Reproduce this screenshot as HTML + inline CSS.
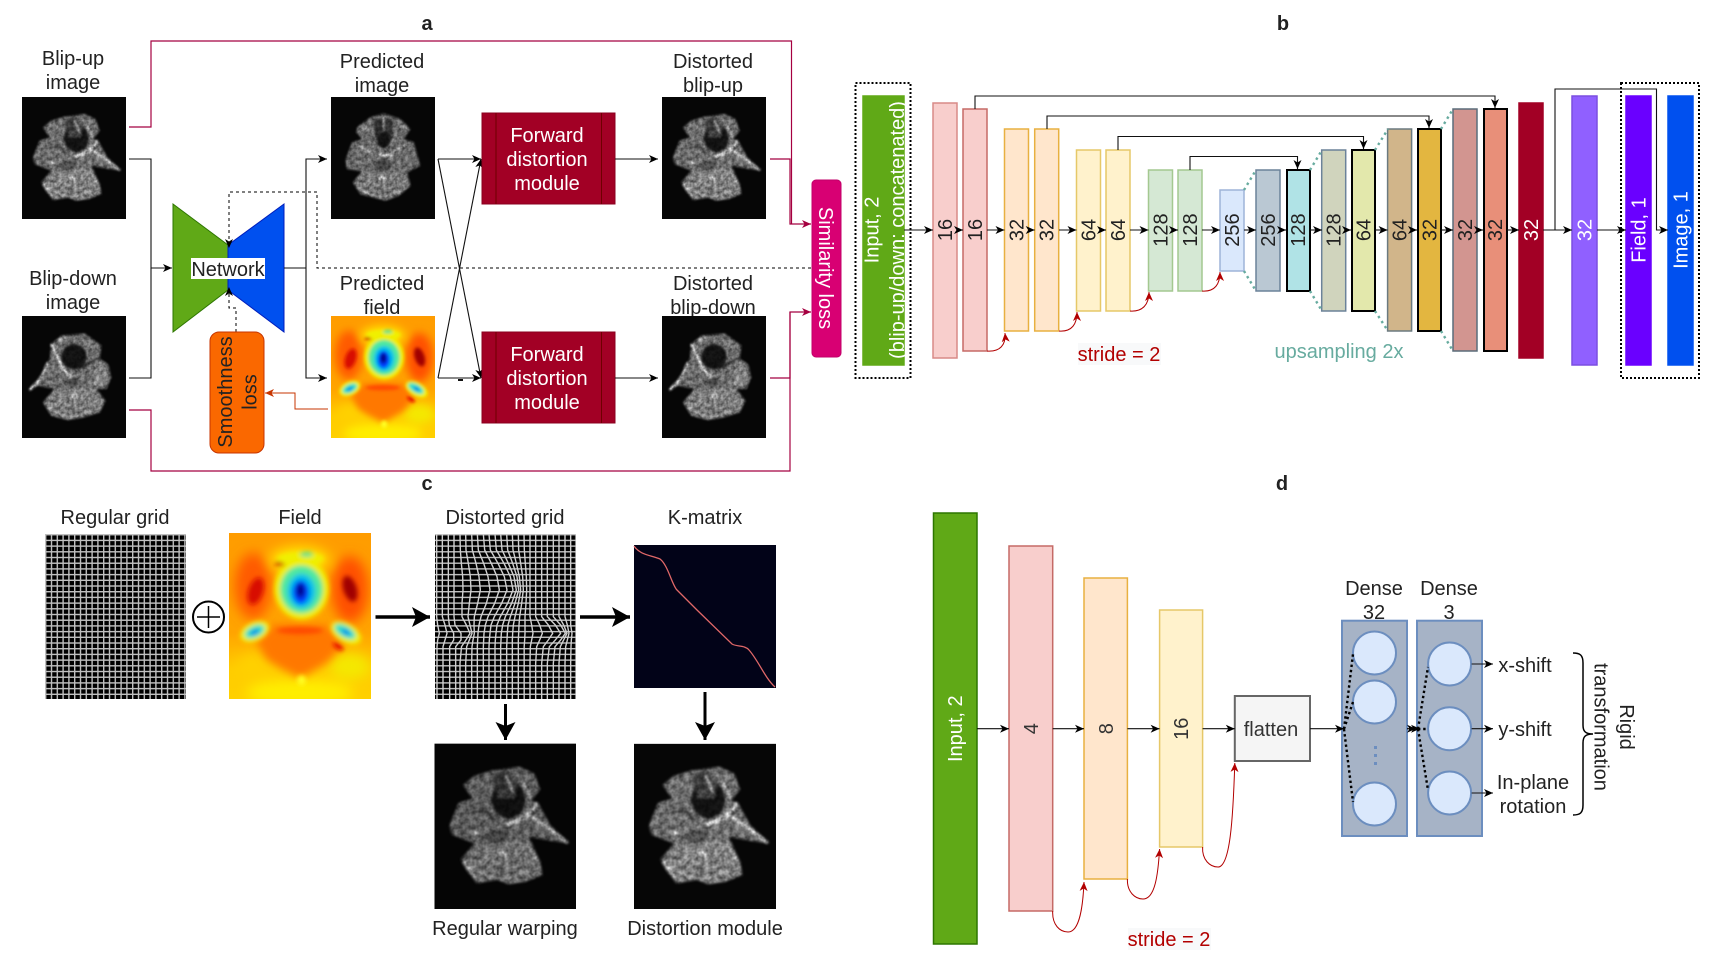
<!DOCTYPE html>
<html lang="en">
<head>
<meta charset="utf-8">
<title>Network architecture diagram</title>
<style>
html,body{margin:0;padding:0;background:#fff;width:1712px;height:968px;overflow:hidden}
svg{display:block}
text{font-family:"Liberation Sans",sans-serif;font-size:20px;fill:#222;text-anchor:middle}
.w{fill:#fff}
.r{fill:#b20000}
.k{fill:none;stroke:#111;stroke-width:1.1}
.m{fill:none;stroke:#a50040;stroke-width:1.2}
.rc{fill:none;stroke:#b20000;stroke-width:1}
.t{stroke:#67ab9f;stroke-width:2.4;stroke-dasharray:2.4 3.6;fill:none}
.th{fill:none;stroke:#000;stroke-width:2.4;stroke-dasharray:2.4 2.8}
</style>
</head>
<body>
<svg width="1712" height="968" viewBox="0 0 1712 968" xmlns="http://www.w3.org/2000/svg">
<defs>
<filter id="tex" x="-10%" y="-10%" width="120%" height="120%" color-interpolation-filters="sRGB">
<feGaussianBlur in="SourceGraphic" stdDeviation="3" result="b"/>
<feTurbulence type="fractalNoise" baseFrequency="0.09" numOctaves="2" seed="4" result="n"/>
<feColorMatrix in="n" type="matrix" values="1.1 0 0 0 .15  1.1 0 0 0 .15  1.1 0 0 0 .15  0 0 0 0 1" result="g"/>
<feComposite in="b" in2="g" operator="arithmetic" k1="1" k2=".15" k3="0" k4="0"/>
</filter>
<filter id="b2" x="-20%" y="-20%" width="140%" height="140%"><feGaussianBlur stdDeviation="7"/></filter>
<filter id="b2b" x="-20%" y="-20%" width="140%" height="140%"><feGaussianBlur stdDeviation="13"/></filter>
<filter id="b3" x="-40%" y="-40%" width="180%" height="180%"><feGaussianBlur stdDeviation="18"/></filter>
<filter id="bg" x="-5%" y="-5%" width="110%" height="110%"><feGaussianBlur stdDeviation=".35"/></filter>
<clipPath id="cg"><rect x="14" y="12" width="423" height="495"/></clipPath>
<linearGradient id="fbg" x1="0" y1="0" x2="0" y2="1">
<stop offset="0" stop-color="#ff9c00"/><stop offset=".6" stop-color="#ffa400"/><stop offset=".82" stop-color="#ffcc00"/><stop offset="1" stop-color="#ffd000"/>
</linearGradient>
<marker id="ah" markerUnits="userSpaceOnUse" markerWidth="11" markerHeight="10" refX="9" refY="5" orient="auto" overflow="visible"><path d="M0 1L9 5L0 9L2.5 5Z" fill="#000"/></marker>
<marker id="ar" markerUnits="userSpaceOnUse" markerWidth="11" markerHeight="10" refX="9" refY="5" orient="auto" overflow="visible"><path d="M0 1L9 5L0 9L2.5 5Z" fill="#b20000"/></marker>
<marker id="am" markerUnits="userSpaceOnUse" markerWidth="11" markerHeight="10" refX="9" refY="5" orient="auto" overflow="visible"><path d="M0 1L9 5L0 9L2.5 5Z" fill="#a50040"/></marker>
<marker id="ao" markerUnits="userSpaceOnUse" markerWidth="11" markerHeight="10" refX="9" refY="5" orient="auto" overflow="visible"><path d="M0 1L9 5L0 9L2.5 5Z" fill="#c73500"/></marker>
<marker id="ab" markerUnits="userSpaceOnUse" markerWidth="24" markerHeight="24" refX="18" refY="10" orient="auto" overflow="visible"><path d="M0 0L18 10L0 20L4 10Z" fill="#000"/></marker>

<pattern id="grid" patternUnits="userSpaceOnUse" width="5.8" height="5.7">
<rect width="5.8" height="5.7" fill="#000"/>
<path d="M0 .7H5.8M.7 0V5.7" stroke="#c0c0c0" stroke-width="1.4"/>
</pattern>
<pattern id="gridh" patternUnits="userSpaceOnUse" width="5.8" height="5.7">
<rect width="5.8" height="5.7" fill="#000"/>
<path d="M0 .7H5.8" stroke="#c0c0c0" stroke-width="1.4"/>
</pattern>

<symbol id="brainA" viewBox="12 9 312 366" preserveAspectRatio="none">
<rect x="12" y="9" width="312" height="366" fill="#060606"/>
<g filter="url(#tex)">
<path d="M100 80L140 68L200 60L232 75L245 110L225 135L240 140L268 190L310 230L275 225L220 215L245 270L250 300L210 315L175 320L150 310L105 318L80 285L70 265L100 230L50 210L45 190L65 140L95 130L75 100Z" fill="#808080"/>
<path d="M75 270L110 235L150 225L215 225L245 272L250 300L210 315L175 320L150 310L105 318Z" fill="#989898"/>
<ellipse cx="175" cy="132" rx="37" ry="42" fill="#161616"/>
<path d="M140 80L170 65L195 100L190 130L150 130Z" fill="#484848"/>
<ellipse cx="150" cy="215" rx="24" ry="15" fill="#5c5c5c"/>
<path d="M95 160L125 158L145 178" stroke="#1c1c1c" stroke-width="4" fill="none"/>
<path d="M172 190L215 170L240 140" stroke="#fff" stroke-width="7" fill="none"/>
<path d="M225 170L262 195L305 228" stroke="#f0f0f0" stroke-width="7" fill="none"/>
<path d="M224 128L206 92" stroke="#eee" stroke-width="6" fill="none"/>
<path d="M170 80L185 118" stroke="#ccc" stroke-width="5" fill="none"/>
<path d="M148 260Q158 236 168 260" stroke="#fff" stroke-width="6" fill="none"/>
<path d="M76 270L100 302" stroke="#eee" stroke-width="6" fill="none"/>
<path d="M240 268L215 230" stroke="#ddd" stroke-width="4" fill="none"/>
<path d="M100 212L108 200" stroke="#fff" stroke-width="5" fill="none"/>
<path d="M160 285V308" stroke="#333" stroke-width="4" fill="none"/>
</g>
</symbol>

<symbol id="brainB" viewBox="12 6 312 366" preserveAspectRatio="none">
<rect x="12" y="6" width="312" height="366" fill="#060606"/>
<g filter="url(#tex)">
<path d="M100 90L130 65L200 58L250 95L245 135L270 150L280 190L265 225L235 225L262 260L245 295L195 310L150 318L100 305L75 265L110 225L60 215L32 232L75 175L95 135Z" fill="#7c7c7c"/>
<path d="M75 265L110 225L225 222L262 260L245 295L195 310L150 318L100 305Z" fill="#949494"/>
<ellipse cx="168" cy="128" rx="38" ry="38" fill="#161616"/>
<path d="M225 205L225 120L250 140L275 190L262 222Z" fill="#989898"/>
<path d="M190 160L245 130" stroke="#161616" stroke-width="5" fill="none"/>
<path d="M100 90L118 128L132 162L165 195" stroke="#fff" stroke-width="7" fill="none"/>
<path d="M90 145L70 190L35 228" stroke="#f4f4f4" stroke-width="7" fill="none"/>
<path d="M115 80L145 72" stroke="#eee" stroke-width="5" fill="none"/>
<path d="M198 85L228 105" stroke="#ccc" stroke-width="5" fill="none"/>
<path d="M160 252Q170 230 180 252" stroke="#fff" stroke-width="6" fill="none"/>
<ellipse cx="162" cy="205" rx="22" ry="14" fill="#5a5a5a"/>
<path d="M225 205L240 215" stroke="#fff" stroke-width="5" fill="none"/>
<path d="M100 270L95 295" stroke="#ccc" stroke-width="4" fill="none"/>
<path d="M168 280V305" stroke="#333" stroke-width="4" fill="none"/>
</g>
</symbol>

<symbol id="brainC" viewBox="12 9 312 366" preserveAspectRatio="none">
<rect x="12" y="9" width="312" height="366" fill="#060606"/>
<g filter="url(#tex)">
<path d="M90 100L130 70L170 58L220 75L250 105L230 135L260 145L280 215L240 235L250 275L215 305L175 320L140 310L100 300L78 265L105 232L60 225L55 200L75 145L105 135L88 115Z" fill="#7c7c7c"/>
<path d="M78 265L105 232L240 235L250 275L215 305L175 320L140 310L100 300Z" fill="#8e8e8e"/>
<path d="M140 75L198 75L195 130L170 160L145 130Z" fill="#383838"/>
<ellipse cx="170" cy="138" rx="20" ry="24" fill="#161616"/>
<ellipse cx="168" cy="215" rx="26" ry="18" fill="#505050"/>
<path d="M170 70V110" stroke="#c0c0c0" stroke-width="5" fill="none"/>
<path d="M100 100L125 110M215 95L240 105" stroke="#ccc" stroke-width="5" fill="none"/>
<path d="M95 155L140 178M240 150L195 178" stroke="#ddd" stroke-width="4" fill="none"/>
<path d="M155 182L195 185" stroke="#eee" stroke-width="6" fill="none"/>
<path d="M156 258Q166 236 176 258" stroke="#fff" stroke-width="6" fill="none"/>
<path d="M100 285L125 300M240 280L215 300" stroke="#ccc" stroke-width="4" fill="none"/>
<path d="M168 285V312" stroke="#333" stroke-width="4" fill="none"/>
</g>
</symbol>

<symbol id="fieldimg" viewBox="568 11 425 497" preserveAspectRatio="none">
<rect x="568" y="11" width="425" height="497" fill="url(#fbg)"/>
<g filter="url(#b3)">
<ellipse cx="640" cy="170" rx="55" ry="100" fill="#ff5a00"/>
<ellipse cx="930" cy="180" rx="55" ry="100" fill="#ff5000"/>
<ellipse cx="780" cy="90" rx="90" ry="40" fill="#ffe000"/>
<ellipse cx="780" cy="490" rx="160" ry="40" fill="#ffee00"/>
<ellipse cx="650" cy="410" rx="60" ry="40" fill="#ffd000"/>
<ellipse cx="930" cy="410" rx="60" ry="40" fill="#f4e800"/>
</g>
<g filter="url(#b2b)">
<path d="M650 335L700 285L860 285L915 340L860 400L810 430L780 445L730 420L680 390Z" fill="#ff7800"/>
</g>
<g filter="url(#b2)">
<ellipse cx="780" cy="303" rx="70" ry="11" fill="#ff4800"/>
<ellipse cx="648" cy="185" rx="22" ry="42" fill="#d81000" transform="rotate(18 648 185)"/>
<ellipse cx="930" cy="178" rx="20" ry="40" fill="#a00000" transform="rotate(-18 930 178)"/>
<ellipse cx="725" cy="103" rx="20" ry="7" fill="#c80000"/>
<ellipse cx="782" cy="88" rx="70" ry="20" fill="#f0f000"/>
<ellipse cx="800" cy="75" rx="20" ry="8" fill="#60e090"/>
<ellipse cx="785" cy="178" rx="82" ry="92" fill="#f0ee00"/>
<ellipse cx="785" cy="180" rx="64" ry="72" fill="#50e8a0"/>
<ellipse cx="785" cy="185" rx="42" ry="52" fill="#00c0e8"/>
<ellipse cx="783" cy="188" rx="25" ry="36" fill="#0040ff"/>
<ellipse cx="782" cy="183" rx="13" ry="22" fill="#000090"/>
<ellipse cx="645" cy="306" rx="46" ry="28" fill="#f0f000" transform="rotate(-25 645 306)"/>
<ellipse cx="645" cy="306" rx="32" ry="17" fill="#30e0c8" transform="rotate(-25 645 306)"/>
<ellipse cx="645" cy="308" rx="15" ry="6" fill="#0070f0" transform="rotate(-25 645 308)"/>
<ellipse cx="918" cy="310" rx="50" ry="28" fill="#f0f000" transform="rotate(30 918 310)"/>
<ellipse cx="915" cy="306" rx="35" ry="17" fill="#30e0c8" transform="rotate(30 915 306)"/>
<ellipse cx="918" cy="308" rx="15" ry="6" fill="#0070f0" transform="rotate(30 918 308)"/>
<ellipse cx="895" cy="350" rx="18" ry="9" fill="#e81000" transform="rotate(35 895 350)"/>
<ellipse cx="785" cy="452" rx="13" ry="15" fill="#ffff20"/>
</g>
</symbol>
</defs>

<!-- PANEL A -->
<text x="427" y="30" style="font-weight:bold">a</text>
<text x="73" y="65">Blip-up</text><text x="73" y="89">image</text>
<text x="73" y="285">Blip-down</text><text x="73" y="309">image</text>
<text x="382" y="68">Predicted</text><text x="382" y="92">image</text>
<text x="382" y="290">Predicted</text><text x="382" y="314">field</text>
<text x="713" y="68">Distorted</text><text x="713" y="92">blip-up</text>
<text x="713" y="290">Distorted</text><text x="713" y="314">blip-down</text>

<use href="#brainA" x="22" y="97" width="104" height="122"/>
<use href="#brainB" x="22" y="316" width="104" height="122"/>
<use href="#brainC" x="331" y="97" width="104" height="122"/>
<use href="#fieldimg" x="331" y="316" width="104" height="122"/>
<use href="#brainA" x="662" y="97" width="104" height="122"/>
<use href="#brainB" x="662" y="316" width="104" height="122"/>

<path class="m" d="M129 127H151V41H791.500V224"/>
<path class="m" d="M770 159H790V224H811" marker-end="url(#am)"/>
<path class="m" d="M129 410H151V471H790V312"/>
<path class="m" d="M770 378H790V312H811" marker-end="url(#am)"/>

<path class="k" d="M129 159H151V268H172" marker-end="url(#ah)"/>
<path class="k" d="M129 378H151V268"/>

<polygon points="173,204 228,245 228,290 173,332" fill="#60a917" stroke="#2d7600"/>
<polygon points="284,204 228,245 228,290 284,332" fill="#0050ef" stroke="#001dbc"/>
<rect x="191" y="258" width="74" height="21" fill="#fff"/>
<text x="228" y="276">Network</text>

<path class="k" d="M284 268H306M306 268V159H327" marker-end="url(#ah)"/>
<path class="k" d="M306 268V378H327" marker-end="url(#ah)"/>

<path d="M811 268H317V192H229V248" fill="none" stroke="#000" stroke-dasharray="3 3" stroke-width="1" marker-end="url(#ah)"/>
<path d="M236 332V308H229V287" fill="none" stroke="#000" stroke-dasharray="3 3" stroke-width="1" marker-end="url(#ah)"/>

<rect x="210" y="332" width="54" height="121" rx="9" fill="#fa6800" stroke="#c73500"/>
<g transform="translate(225 392) rotate(-90)"><text y="7">Smoothness</text></g>
<g transform="translate(249.500 392) rotate(-90)"><text y="7">loss</text></g>
<path d="M328 409H295V393H265" fill="none" stroke="#c73500" stroke-width="1" marker-end="url(#ao)"/>

<path class="k" d="M438 159H481" marker-end="url(#ah)"/>
<path class="k" d="M438 159L481 378" marker-end="url(#ah)"/>
<path class="k" d="M438 378L481 159" marker-end="url(#ah)"/>
<path class="k" d="M438 378H481" marker-end="url(#ah)"/>
<rect x="458" y="379" width="5" height="2" fill="#111"/>

<g fill="#a20025" stroke="#8a001f">
<rect x="482" y="113" width="133" height="91"/>
<rect x="482" y="332" width="133" height="91"/>
</g>
<path d="M496 113V204M601.500 113V204M496 332V423M601.500 332V423" stroke="#6f0000" fill="none"/>
<text class="w" x="547" y="142">Forward</text><text class="w" x="547" y="166">distortion</text><text class="w" x="547" y="190">module</text>
<text class="w" x="547" y="361">Forward</text><text class="w" x="547" y="385">distortion</text><text class="w" x="547" y="409">module</text>
<path class="k" d="M615 159H658" marker-end="url(#ah)"/>
<path class="k" d="M615 378H658" marker-end="url(#ah)"/>

<rect x="812" y="180" width="29" height="177" rx="4" fill="#d80073" stroke="#c2006a"/>
<g transform="translate(826 268) rotate(90)"><text class="w" y="7">Similarity loss</text></g>

<!-- PANEL B -->
<text x="1283" y="30" style="font-weight:bold">b</text>

<g stroke-width="1.500">
<rect x="863" y="96" width="41" height="269" fill="#60a917" stroke="#60a917"/>
<rect x="933" y="103" width="24" height="255" fill="#f8cecc" stroke="#d88a87"/>
<rect x="963" y="109" width="24" height="242" fill="#f8cecc" stroke="#c56a66"/>
<rect x="1004.500" y="129" width="24" height="202" fill="#ffe6cc" stroke="#e8b040"/>
<rect x="1034.700" y="129" width="24" height="202" fill="#ffe6cc" stroke="#e8b040"/>
<rect x="1076.500" y="150" width="24" height="161" fill="#fff2cc" stroke="#e6c868"/>
<rect x="1106" y="150" width="24" height="161" fill="#fff2cc" stroke="#e6c868"/>
<rect x="1148.500" y="170" width="24" height="121" fill="#d5e8d4" stroke="#a4c890"/>
<rect x="1178" y="170" width="24" height="121" fill="#d5e8d4" stroke="#a4c890"/>
<rect x="1220" y="190" width="24" height="81" fill="#dae8fc" stroke="#9eb4d8"/>
<rect x="1256" y="170" width="24" height="121" fill="#bac8d3" stroke="#6b8299"/>
<rect x="1287" y="170" width="23" height="121" fill="#b0e3e6" stroke="#000" stroke-width="2"/>
<rect x="1321.700" y="150" width="24" height="161" fill="#d0d4bd" stroke="#6b8299"/>
<rect x="1352" y="150" width="23" height="161" fill="#e3e8ac" stroke="#000" stroke-width="2"/>
<rect x="1387.600" y="129" width="24" height="202" fill="#d1b58a" stroke="#6b7a80"/>
<rect x="1418" y="129" width="23" height="202" fill="#e3b640" stroke="#000" stroke-width="2"/>
<rect x="1453" y="109" width="24" height="242" fill="#d29590" stroke="#5a6d7a"/>
<rect x="1484" y="109" width="23" height="242" fill="#e88f79" stroke="#000" stroke-width="2"/>
<rect x="1519" y="103" width="24" height="255" fill="#a20025" stroke="#a20025"/>
<rect x="1572" y="96" width="25" height="269" fill="#9060ff" stroke="#7b4fe0"/>
<rect x="1626" y="96" width="25" height="269" fill="#6a00ff" stroke="#6a00ff"/>
<rect x="1668" y="96" width="25" height="269" fill="#0050ef" stroke="#0050ef"/>
</g>

<rect x="855.500" y="83" width="55" height="295" fill="none" stroke="#000" stroke-width="2" stroke-dasharray="2 2"/>
<rect x="1621" y="83" width="78" height="295" fill="none" stroke="#000" stroke-width="2" stroke-dasharray="2 2"/>

<path class="k" d="M975 109V96H1495V108" marker-end="url(#ah)"/>
<path class="k" d="M1047 129V116H1429V128" marker-end="url(#ah)"/>
<path class="k" d="M1118 150V136.500H1363.500V149" marker-end="url(#ah)"/>
<path class="k" d="M1190 170V156.500H1297.500V169" marker-end="url(#ah)"/>
<path class="k" d="M1555 230V89H1656.500V230H1668" marker-end="url(#ah)"/>

<path class="k" d="M904 230H933" marker-end="url(#ah)"/>
<path class="k" d="M957 230H963" marker-end="url(#ah)"/>
<path class="k" d="M987 230H1004.500" marker-end="url(#ah)"/>
<path class="k" d="M1029 230H1034.700" marker-end="url(#ah)"/>
<path class="k" d="M1059 230H1076.500" marker-end="url(#ah)"/>
<path class="k" d="M1101 230H1106" marker-end="url(#ah)"/>
<path class="k" d="M1130 230H1148.500" marker-end="url(#ah)"/>
<path class="k" d="M1173 230H1178" marker-end="url(#ah)"/>
<path class="k" d="M1202 230H1220" marker-end="url(#ah)"/>
<path class="k" d="M1244 230H1256" marker-end="url(#ah)"/>
<path class="k" d="M1280.500 230H1286" marker-end="url(#ah)"/>
<path class="k" d="M1310 230H1322" marker-end="url(#ah)"/>
<path class="k" d="M1346 230H1351" marker-end="url(#ah)"/>
<path class="k" d="M1375.500 230H1387.600" marker-end="url(#ah)"/>
<path class="k" d="M1412 230H1417" marker-end="url(#ah)"/>
<path class="k" d="M1441.500 230H1453" marker-end="url(#ah)"/>
<path class="k" d="M1477 230H1483" marker-end="url(#ah)"/>
<path class="k" d="M1507 230H1519" marker-end="url(#ah)"/>
<path class="k" d="M1543 230H1572" marker-end="url(#ah)"/>
<path class="k" d="M1597 230H1626" marker-end="url(#ah)"/>

<path class="rc" d="M987 351C1000 352 1006 345 1005 333" marker-end="url(#ar)"/>
<path class="rc" d="M1059 331C1072 332 1077 324 1077 312" marker-end="url(#ar)"/>
<path class="rc" d="M1130 311C1143 312 1149 304 1149 292" marker-end="url(#ar)"/>
<path class="rc" d="M1202 291C1215 292 1220 284 1220 272" marker-end="url(#ar)"/>

<path class="t" d="M1244 190L1256 170M1244 271L1256 291M1310 170L1322 150M1310 291L1322 311M1375 150L1388 129M1375 311L1388 331M1441 129L1453 109M1441 331L1453 351"/>

<g transform="translate(871.500 230) rotate(-90)"><text class="w" y="7">Input, 2</text></g>
<g transform="translate(897 230) rotate(-90)"><text class="w" y="7">(blip-up/down: concatenated)</text></g>
<g transform="translate(945 230) rotate(-90)"><text y="7">16</text></g>
<g transform="translate(975 230) rotate(-90)"><text y="7">16</text></g>
<g transform="translate(1016.500 230) rotate(-90)"><text y="7">32</text></g>
<g transform="translate(1046.700 230) rotate(-90)"><text y="7">32</text></g>
<g transform="translate(1088.500 230) rotate(-90)"><text y="7">64</text></g>
<g transform="translate(1118 230) rotate(-90)"><text y="7">64</text></g>
<g transform="translate(1160.500 230) rotate(-90)"><text y="7">128</text></g>
<g transform="translate(1190 230) rotate(-90)"><text y="7">128</text></g>
<g transform="translate(1232 230) rotate(-90)"><text y="7">256</text></g>
<g transform="translate(1268 230) rotate(-90)"><text y="7">256</text></g>
<g transform="translate(1298 230) rotate(-90)"><text y="7">128</text></g>
<g transform="translate(1333.700 230) rotate(-90)"><text y="7">128</text></g>
<g transform="translate(1363.500 230) rotate(-90)"><text y="7">64</text></g>
<g transform="translate(1399.600 230) rotate(-90)"><text y="7">64</text></g>
<g transform="translate(1429.500 230) rotate(-90)"><text y="7">32</text></g>
<g transform="translate(1465 230) rotate(-90)"><text y="7">32</text></g>
<g transform="translate(1495 230) rotate(-90)"><text y="7">32</text></g>
<g transform="translate(1531 230) rotate(-90)"><text class="w" y="7">32</text></g>
<g transform="translate(1584.500 230) rotate(-90)"><text class="w" y="7">32</text></g>
<g transform="translate(1638.500 230) rotate(-90)"><text class="w" y="7">Field, 1</text></g>
<g transform="translate(1680.500 230) rotate(-90)"><text class="w" y="7">Image, 1</text></g>

<rect x="1078" y="343" width="83" height="22" fill="#f8f9fa"/>
<text class="r" x="1119" y="361">stride = 2</text>
<text x="1339" y="358" style="fill:#67ab9f">upsampling 2x</text>

<!-- PANEL C -->
<text x="427" y="490" style="font-weight:bold">c</text>
<text x="115" y="524">Regular grid</text>
<text x="300" y="524">Field</text>
<text x="505" y="524">Distorted grid</text>
<text x="705" y="524">K-matrix</text>
<rect transform="translate(45 534)" width="141" height="165" fill="url(#grid)"/>
<use href="#fieldimg" x="229" y="533" width="142" height="166"/>
<rect transform="translate(435 534)" width="141" height="165" fill="url(#gridh)"/>
<g transform="translate(430 530) scale(.33333)" fill="none" stroke="#d0d0d0" stroke-width="4.2" stroke-linejoin="round" clip-path="url(#cg)">
<g filter="url(#bg)">
<path d="M20 12V260L23 285L28 310L23 330L21 350V507"/>
<path d="M37 12V260L45 285L51 310L45 330L39 350V507"/>
<path d="M55 12V260L58 285L71 310L71 330L59 350V507"/>
<path d="M72 12V260L75 285L93 310L93 330L77 350V507"/>
<path d="M90 12L91 60L94 100L98 140L99 180L96 220L96 260L109 285L120 310L108 330L94.500 350L90 400V507"/>
<path d="M107 12L108 60L115 100L121 140L123 180L118 220L114 260L120 285L126 310L118 330L110 350L107 400V507"/>
<path d="M125 12L127 60L138 100L147 140L151 180L143 220L133 260L132 285L133 310L129 330L126 350L125 400V507"/>
<path d="M142 12L145 60L161 100L174 140L180 180L169 220L153 260L147 285L144 310L143 330L142 350V507"/>
<path d="M160 12L164 60L184 100L201 140L208 180L194 220L174 260L166 285L162 310L161 330L160 350V507"/>
<path d="M177 12L181 60L204 100L223 140L231 180L215 220L193 260L183 285L180 310L178 330L177 350V507"/>
<path d="M195 12L199 60L222 100L241 140L249 180L233 220L211 260L201 285L198 310L196 330L195 350V507"/>
<path d="M212 12L216 60L235 100L252 140L259 180L245 220L226 260L218 285L214 310L213 330L212 350V507"/>
<path d="M230 12L233 60L248 100L261 140L266 180L255 220L241 260L234 285L232 310L231 330L230 350V507"/>
<path d="M247 12L249 60L259 100L268 140L272 180L265 220L255 260L250 285L248 310L247 330V507"/>
<path d="M265 12L266 60L272 100L278 140L280 180L275 220L269 260L267 285L266 310L265 330V507"/>
<path d="M282 12L283 60L286 100L289 140L290 180L288 220L285 260L285 285L285 310L284 330L282.500 350V507"/>
<path d="M300 12V260L305 285L309 310L305 330L301 350L300 400V507"/>
<path d="M317 12V260L329 285L337 310L329 330L320 350L317 400V507"/>
<path d="M335 12V260L355 285L368 310L355 330L340 350L335 400V507"/>
<path d="M352 12V260L376 285L392 310L376 330L358 350L352 400V507"/>
<path d="M370 12V260L392 285L406 310L392 330L375 350L370 400V507"/>
<path d="M387 12V260L401 285L411 310L401 330L391 350L387 400V507"/>
<path d="M405 12V260L412 285L417 310L412 330L407 350L405 400V507"/>
<path d="M422 12V260L422 285L426 310L424 330L423 350L422 400V507"/>
<path d="M437 12V507"/>
</g>
</g>
<circle cx="208.500" cy="617" r="15.500" fill="#fff" stroke="#000" stroke-width="2"/>
<path d="M197 617H220M208.500 606V628" stroke="#000" stroke-width="1.500"/>
<rect x="634" y="545" width="142" height="143" fill="#020318"/>
<path d="M634 546C640 555 650 555 660 559C668 565 672 585 677 590L697 610L732 644C737 647 745 645 749 650C758 660 765 678 775 687" fill="none" stroke="#e06868" stroke-width="1.300"/>

<path d="M375.500 617H430" stroke="#000" stroke-width="3.500" fill="none" marker-end="url(#ab)"/>
<path d="M580 617H630" stroke="#000" stroke-width="3.500" fill="none" marker-end="url(#ab)"/>
<path d="M505.500 704V740" stroke="#000" stroke-width="3" fill="none" marker-end="url(#ab)"/>
<path d="M705 692V740" stroke="#000" stroke-width="3" fill="none" marker-end="url(#ab)"/>

<rect x="434.500" y="743.700" width="141.500" height="165.300" fill="#000"/>
<use href="#brainA" x="434.500" y="743.700" width="141.500" height="165.300" style="opacity:.85"/>
<use href="#brainA" x="634" y="743.700" width="142" height="165.300"/>
<text x="505" y="935">Regular warping</text>
<text x="705" y="935">Distortion module</text>

<!-- PANEL D -->
<text x="1282" y="490" style="font-weight:bold">d</text>
<g stroke-width="1.500">
<rect x="933.500" y="513" width="43.500" height="431" fill="#60a917" stroke="#2d7600"/>
<rect x="1009" y="546" width="43.700" height="365" fill="#f8cecc" stroke="#c56a66"/>
<rect x="1084" y="578" width="43.400" height="301" fill="#ffe6cc" stroke="#e8b040"/>
<rect x="1159.600" y="610" width="43" height="237" fill="#fff2cc" stroke="#e6c868"/>
</g>
<rect x="1234.800" y="696" width="75.200" height="65" fill="#f5f5f5" stroke="#666" stroke-width="2"/>
<rect x="1342" y="620.700" width="65" height="215.300" fill="#a6b3c6" stroke="#6c8ebf" stroke-width="2"/>
<rect x="1417" y="620.700" width="65" height="215.300" fill="#a6b3c6" stroke="#6c8ebf" stroke-width="2"/>
<g fill="#dae8fc" stroke="#6c8ebf" stroke-width="2">
<circle cx="1374.500" cy="653" r="21.500"/>
<circle cx="1374.500" cy="702" r="21.500"/>
<circle cx="1374.500" cy="804" r="21.500"/>
<circle cx="1449.600" cy="664" r="21.500"/>
<circle cx="1449.600" cy="728.700" r="21.500"/>
<circle cx="1449.600" cy="793" r="21.500"/>
</g>
<path d="M1375.500 746V766" stroke="#6c8ebf" stroke-width="3" stroke-dasharray="3 5" fill="none"/>

<path class="k" d="M977 728.700H1009" marker-end="url(#ah)"/>
<path class="k" d="M1052.700 728.700H1084" marker-end="url(#ah)"/>
<path class="k" d="M1127.400 728.700H1159.600" marker-end="url(#ah)"/>
<path class="k" d="M1202.600 728.700H1234.800" marker-end="url(#ah)"/>
<path class="k" d="M1310 728.700H1344" marker-end="url(#ah)"/>
<path class="k" d="M1407 728.700H1420" marker-end="url(#ah)"/>
<path class="k" d="M1407 728.700H1416" marker-end="url(#ah)"/>
<path class="k" d="M1471.600 664H1493" marker-end="url(#ah)"/>
<path class="k" d="M1471.600 728.700H1493" marker-end="url(#ah)"/>
<path class="k" d="M1471.600 793H1493" marker-end="url(#ah)"/>

<path class="th" d="M1344 729L1353 654M1344 729L1353 702M1344 729L1353 802"/>
<path class="th" d="M1418 729L1428 667M1418 729L1428 729M1418 729L1428 790"/>

<g transform="translate(1031 728.700) rotate(-90)"><text y="7" style="fill:#333">4</text></g>
<g transform="translate(1106 728.700) rotate(-90)"><text y="7" style="fill:#333">8</text></g>
<g transform="translate(1181 728.700) rotate(-90)"><text y="7" style="fill:#333">16</text></g>
<g transform="translate(955 728.700) rotate(-90)"><text class="w" y="7">Input, 2</text></g>
<text x="1271" y="736" style="fill:#333">flatten</text>
<text x="1374" y="595">Dense</text><text x="1374" y="619">32</text>
<text x="1449" y="595">Dense</text><text x="1449" y="619">3</text>
<text x="1525" y="672">x-shift</text>
<text x="1525" y="736">y-shift</text>
<text x="1533" y="789">In-plane</text>
<text x="1533" y="813">rotation</text>
<path d="M1573 653C1580 653 1583 655 1583 663V725C1583 731 1585 734 1593 734C1585 734 1583 737 1583 743V805C1583 813 1580 815 1573 815" fill="none" stroke="#000" stroke-width="1.500"/>
<g transform="translate(1601.500 727) rotate(90)"><text y="7">transformation</text></g>
<g transform="translate(1627 727) rotate(90)"><text y="7">Rigid</text></g>

<path class="rc" d="M1052.700 911C1052 925 1060 932 1068 932C1080 932 1083 905 1084 882" marker-end="url(#ar)"/>
<path class="rc" d="M1127.400 879C1127 892 1135 899 1143 899C1155 899 1158 875 1159.600 849" marker-end="url(#ar)"/>
<path class="rc" d="M1202.600 847C1202 860 1210 867 1218 867C1230 867 1233 820 1234.800 763" marker-end="url(#ar)"/>
<rect x="1128" y="928" width="83" height="22" fill="#f8f9fa"/>
<text class="r" x="1169" y="946">stride = 2</text>
</svg>
</body>
</html>
